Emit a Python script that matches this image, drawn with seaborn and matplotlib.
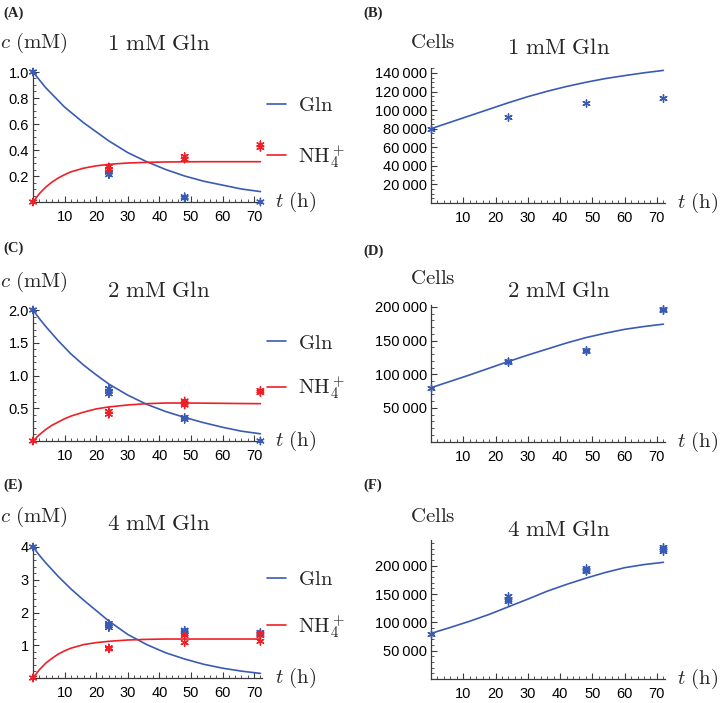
import matplotlib
matplotlib.use('Agg')
import pandas as pd
import matplotlib.pyplot as plt
import seaborn as sns
from matplotlib.ticker import MultipleLocator

# model time grid (h)
t_model = [0, 2, 4, 6, 8, 10, 12, 16, 20, 24, 30, 36, 42, 48, 54, 60, 66, 72]

gln_model_1mM = [1.00, 0.94, 0.88, 0.83, 0.78, 0.73, 0.69, 0.61, 0.54, 0.47,
                 0.38, 0.31, 0.25, 0.20, 0.16, 0.13, 0.10, 0.08]
nh4_model_1mM = [0.0, 0.064, 0.114, 0.153, 0.185, 0.210, 0.232, 0.260, 0.278, 0.290,
                 0.300, 0.305, 0.308, 0.309, 0.31, 0.31, 0.31, 0.31]
gln_model_2mM = [2.00, 1.87, 1.75, 1.64, 1.53, 1.43, 1.33, 1.16, 1.01, 0.87,
                 0.70, 0.56, 0.45, 0.36, 0.28, 0.21, 0.15, 0.11]
nh4_model_2mM = [0.0, 0.095, 0.175, 0.24, 0.29, 0.34, 0.38, 0.44, 0.49, 0.52,
                 0.55, 0.57, 0.58, 0.58, 0.578, 0.575, 0.572, 0.57]
gln_model_4mM = [4.00, 3.75, 3.52, 3.31, 3.10, 2.91, 2.72, 2.38, 2.06, 1.74,
                 1.33, 1.02, 0.77, 0.58, 0.42, 0.30, 0.21, 0.14]
nh4_model_4mM = [0.0, 0.25, 0.45, 0.60, 0.73, 0.83, 0.91, 1.02, 1.08, 1.12,
                 1.16, 1.18, 1.19, 1.19, 1.19, 1.19, 1.19, 1.19]

t_cells_model = [0, 6, 12, 18, 24, 30, 36, 42, 48, 54, 60, 66, 72]
cells_model_1mM = [80000, 87000, 94000, 101000, 108000, 114500, 120300,
                   125500, 130000, 134000, 137200, 140200, 142800]
cells_model_2mM = [80000, 89500, 99000, 109000, 119000, 128500, 137500,
                   146500, 154500, 161000, 166800, 171000, 174500]
cells_model_4mM = [80500, 91000, 102000, 114000, 127500, 141000, 155000,
                   167000, 178000, 188000, 196500, 202000, 206000]

# measurements
t_gln_1mM = [0, 24, 24, 24, 48, 48, 72]
gln_obs_1mM = [1.0, 0.21, 0.23, 0.25, 0.03, 0.04, 0.0]
t_nh4_1mM = [0, 24, 24, 48, 48, 72, 72]
nh4_obs_1mM = [0.0, 0.25, 0.27, 0.33, 0.35, 0.42, 0.44]

t_gln_2mM = [0, 24, 24, 24, 48, 48, 72]
gln_obs_2mM = [2.0, 0.72, 0.76, 0.80, 0.33, 0.36, 0.0]
t_nh4_2mM = [0, 24, 24, 48, 48, 48, 72, 72]
nh4_obs_2mM = [0.0, 0.41, 0.45, 0.55, 0.58, 0.61, 0.74, 0.77]

t_gln_4mM = [0, 24, 24, 24, 48, 48, 48, 72, 72, 72]
gln_obs_4mM = [4.0, 1.54, 1.60, 1.66, 1.35, 1.41, 1.46, 1.30, 1.35, 1.39]
t_nh4_4mM = [0, 24, 24, 48, 48, 72, 72]
nh4_obs_4mM = [0.0, 0.89, 0.92, 1.08, 1.30, 1.12, 1.33]

t_cells_1mM = [0, 24, 48, 72]
cells_obs_1mM = [80000, 93000, 108000, 113000]
t_cells_2mM = [0, 24, 24, 48, 48, 72, 72]
cells_obs_2mM = [80000, 118000, 120000, 134000, 136000, 195000, 197000]
t_cells_4mM = [0, 24, 24, 24, 48, 48, 48, 72, 72, 72]
cells_obs_4mM = [80000, 137000, 142000, 147000, 190000, 193000, 196000,
                 226000, 229000, 233000]

conc_titles = ['1', '2', '4']
panel_left = ['(A)', '(C)', '(E)']
panel_right = ['(B)', '(D)', '(F)']
yticks_conc = [[0.2, 0.4, 0.6, 0.8, 1.0], [0.5, 1.0, 1.5, 2.0], [1, 2, 3, 4]]
yticklabels_conc = [['0.2', '0.4', '0.6', '0.8', '1.0'],
                    ['0.5', '1.0', '1.5', '2.0'], ['1', '2', '3', '4']]
yticks_cells = [[20000, 40000, 60000, 80000, 100000, 120000, 140000],
                [50000, 100000, 150000, 200000],
                [50000, 100000, 150000, 200000]]
xticks = [10, 20, 30, 40, 50, 60, 70]

BLUE = '#3a5bb3'
RED = '#ee2027'
GLN = r'$\mathrm{Gln}$'
NH4 = r'$\mathrm{NH}_4^+$'

sns.set_theme(style='ticks')
plt.rcParams['mathtext.fontset'] = 'cm'
plt.rcParams['font.family'] = ['Liberation Sans', 'DejaVu Sans']

W, H = 720, 703
fig = plt.figure(figsize=(7.2, 7.03), dpi=100)


def add_ax(x0, x1, ybot, ytop):
    return fig.add_axes([x0 / W, 1 - ybot / H, (x1 - x0) / W, (ybot - ytop) / H])


def style_ax(ax, ymax, yt, ytl, ymajor_minor):
    ax.set_xlim(0, 72.5)
    ax.set_ylim(0, ymax)
    for s in ['top', 'right']:
        ax.spines[s].set_visible(False)
    for s in ['left', 'bottom']:
        ax.spines[s].set_color('#3a3a3a')
        ax.spines[s].set_linewidth(0.9)
    ax.set_xticks(xticks)
    ax.set_xticklabels([str(v) for v in xticks])
    ax.xaxis.set_minor_locator(MultipleLocator(2))
    ax.set_yticks(yt)
    ax.set_yticklabels(ytl)
    ax.yaxis.set_minor_locator(MultipleLocator(ymajor_minor))
    ax.tick_params(which='major', direction='in', length=4, width=0.8,
                   color='#3a3a3a', labelsize=10.5, labelcolor='black')
    ax.tick_params(which='minor', direction='in', length=2, width=0.6,
                   color='#3a3a3a')
    ax.tick_params(axis='x', which='major', pad=6)
    ax.tick_params(axis='y', which='major', pad=3)
    ax.set_xlabel('')
    ax.set_ylabel('')
    ax.set_facecolor('none')


left_specs = [
    (202, 1.02, 0.05, 133, 1.35, gln_model_1mM, nh4_model_1mM,
     t_gln_1mM, gln_obs_1mM, t_nh4_1mM, nh4_obs_1mM, 13, 43, 43),
    (441, 2.05, 0.1, 367.5, 1.05, gln_model_2mM, nh4_model_2mM,
     t_gln_2mM, gln_obs_2mM, t_nh4_2mM, nh4_obs_2mM, 248, 282, 290),
    (678, 4.1, 0.2, 605, 1.15, gln_model_4mM, nh4_model_4mM,
     t_gln_4mM, gln_obs_4mM, t_nh4_4mM, nh4_obs_4mM, 485, 517, 523),
]
unit_left = [130.0, 65.5, 32.75]

for i, spec in enumerate(left_specs):
    (ybot, ymax, minor, leg_y, leg_sp, gm, nm, tg, go, tn, no,
     lab_y, ylab_y, title_y) = spec
    ytop = ybot - ymax * unit_left[i]
    ax = add_ax(33, 262, ybot, ytop)

    curves = pd.DataFrame({
        't': t_model + t_model,
        'c': gm + nm,
        'species': [GLN] * len(t_model) + [NH4] * len(t_model),
    })
    pts = pd.DataFrame({
        't': tg + tn,
        'c': go + no,
        'species': [GLN] * len(tg) + [NH4] * len(tn),
    })
    pal = {GLN: BLUE, NH4: RED}
    sns.lineplot(data=curves, x='t', y='c', hue='species', palette=pal,
                 estimator=None, linewidth=1.2, ax=ax)
    sns.scatterplot(data=pts, x='t', y='c', hue='species', palette=pal,
                    marker=(6, 2, 0), s=28, linewidth=1.0, clip_on=False,
                    legend=False, ax=ax, zorder=4)
    style_ax(ax, ymax, yticks_conc[i], yticklabels_conc[i], minor)

    handles, labels = ax.get_legend_handles_labels()
    ax.legend(handles[:2], labels[:2], loc='center left',
              bbox_to_anchor=(267 / W, 1 - leg_y / H),
              bbox_transform=fig.transFigure, frameon=False, fontsize=15,
              handlelength=0.9, handletextpad=0.6, labelspacing=leg_sp,
              borderpad=0, borderaxespad=0)

    fig.text(3 / W, 1 - lab_y / H, panel_left[i], fontsize=10.5,
             fontweight='bold', family='Liberation Serif', va='center')
    fig.text(0 / W, 1 - ylab_y / H, r'$c\ (\mathrm{mM})$', fontsize=15,
             va='center', ha='left')
    fig.text(159 / W, 1 - title_y / H,
             r'$%s\ \mathrm{mM\ Gln}$' % conc_titles[i], fontsize=16.5,
             va='center', ha='center')
    fig.text(275 / W, 1 - ybot / H, r'$t\ (\mathrm{h})$', fontsize=15,
             va='center', ha='left')

right_specs = [
    (203, 145000, 130.0 / 140000, 5000, cells_model_1mM, t_cells_1mM,
     cells_obs_1mM, 13, 42, 47),
    (441.5, 203000, 134.5 / 200000, 10000, cells_model_2mM, t_cells_2mM,
     cells_obs_2mM, 251, 279, 290),
    (679, 245000, 113.3 / 200000, 10000, cells_model_4mM, t_cells_4mM,
     cells_obs_4mM, 485, 517, 530),
]

for i, spec in enumerate(right_specs):
    ybot, ymax, ppu, minor, cm, tc, co, lab_y, ylab_y, title_y = spec
    ytop = ybot - ymax * ppu
    ax = add_ax(431, 665, ybot, ytop)

    curve = pd.DataFrame({'t': t_cells_model, 'cells': cm})
    pts = pd.DataFrame({'t': tc, 'cells': co})
    sns.lineplot(data=curve, x='t', y='cells', color=BLUE, estimator=None,
                 linewidth=1.2, ax=ax)
    sns.scatterplot(data=pts, x='t', y='cells', color=BLUE, marker=(6, 2, 0),
                    s=28, linewidth=1.0, clip_on=False, ax=ax, zorder=4)
    labels = ['{:,}'.format(v).replace(',', '\u2009') for v in yticks_cells[i]]
    style_ax(ax, ymax, yticks_cells[i], labels, minor)

    fig.text(363 / W, 1 - lab_y / H, panel_right[i], fontsize=10.5,
             fontweight='bold', family='Liberation Serif', va='center')
    fig.text(410 / W, 1 - ylab_y / H, r'$\mathrm{Cells}$', fontsize=15,
             va='center', ha='left')
    fig.text(559 / W, 1 - title_y / H,
             r'$%s\ \mathrm{mM\ Gln}$' % conc_titles[i], fontsize=16.5,
             va='center', ha='center')
    fig.text(677 / W, 1 - ybot / H, r'$t\ (\mathrm{h})$', fontsize=15,
             va='center', ha='left')

fig.savefig('out.png', dpi=100)
